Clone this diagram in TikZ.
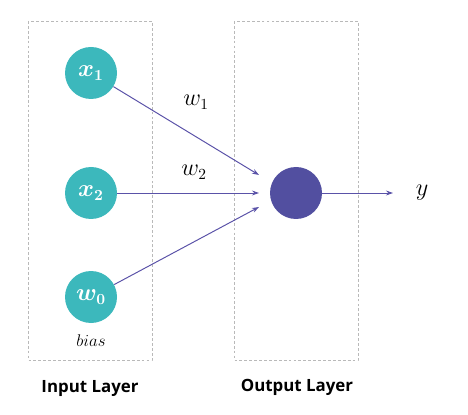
\documentclass[tikz,border=0pt]{standalone}
\usepackage{amsmath,bm}
\usepackage{fontspec}
\setsansfont{Open Sans}
\usetikzlibrary{arrows.meta,positioning}
\definecolor{tealc}{HTML}{3CB8BC}
\definecolor{purp}{HTML}{524FA0}
\definecolor{edgec}{HTML}{5A52A8}
\tikzset{layer/.style={draw=gray!55,dash pattern=on 2pt off 1.5pt,line width=.6pt},neuron/.style={circle,fill=tealc,minimum size=1.3cm,inner sep=0pt,text=white,font=\fontsize{16}{18}\selectfont},outn/.style={circle,fill=purp,minimum size=1.3cm,inner sep=0pt},arr/.style={-{Stealth[length=5pt,width=3.5pt]},draw=edgec,line width=.7pt},lbl/.style={font=\fontsize{16}{18}\selectfont},laytitle/.style={font=\sffamily\bfseries\fontsize{12}{14}\selectfont}}
\begin{document}
\begin{tikzpicture}
\useasboundingbox (0,0) rectangle (11.7,-10.375);
\draw[layer] (0.7,-0.525) rectangle (3.8,-9.0);\draw[layer] (5.85,-0.525) rectangle (8.95,-9.0);
\node[neuron] (x1) at (2.275,-1.825) {$\bm{x_1}$};\node[neuron] (x2) at (2.275,-4.825) {$\bm{x_2}$};\node[neuron] (w0) at (2.275,-7.425) {$\bm{w_0}$};
\node[outn] (out) at (7.4,-4.825) {};\node[lbl] (y) at (10.55,-4.825) {$y$};
\coordinate (t1) at (6.475,-4.375);\coordinate (t2) at (6.475,-4.825);\coordinate (t3) at (6.475,-5.175);
\draw[arr] (x1)--(t1);\draw[arr] (x2)--(t2);\draw[arr] (w0)--(t3);
\coordinate (ye) at (9.825,-4.825);\draw[arr] (out)--(ye);
\node[lbl] (l1) at (4.9,-2.55) {$w_1$};\node[lbl] (l2) at (4.85,-4.3) {$w_2$};
\node[font=\fontsize{12}{14}\selectfont] (b) at (2.275,-8.525) {$bias$};
\node[laytitle] (il) at (2.25,-9.725) {Input Layer};\node[laytitle] (ol) at (7.425,-9.675) {Output Layer};
\end{tikzpicture}
\end{document}
